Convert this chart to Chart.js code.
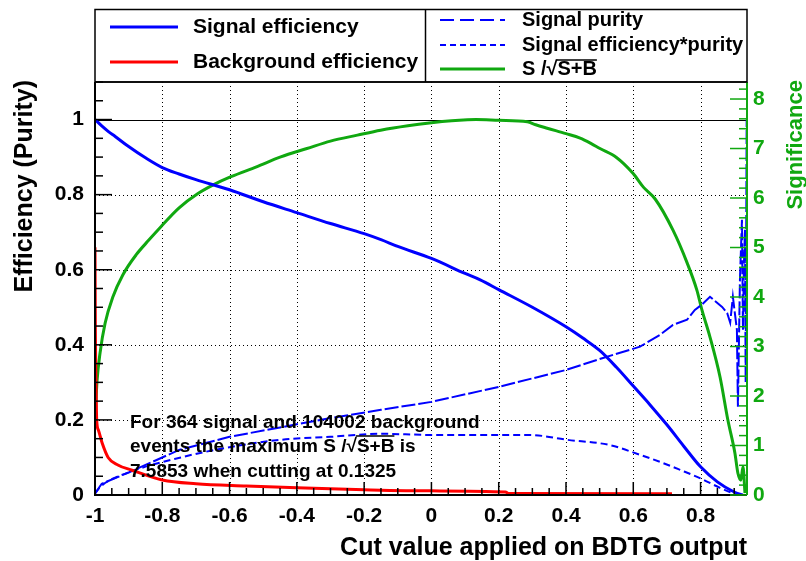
<!DOCTYPE html>
<html>
<head>
<meta charset="utf-8">
<script src="https://cdn.jsdelivr.net/npm/chart.js@4/dist/chart.umd.min.js"></script>
<style>
  html, body { margin: 0; padding: 0; background: #fff; }
  #wrap { width: 806px; height: 561px; }
</style>
</head>
<body>
<div id="wrap"><canvas id="effChart" width="806" height="561"></canvas></div>
<script>
// cut values (x) and curve values
const sigEffX = [-1.0, -0.98, -0.96, -0.94, -0.9, -0.85, -0.8, -0.75, -0.7, -0.6, -0.5, -0.4, -0.3, -0.2, -0.15, -0.1, 0.0, 0.1, 0.145, 0.2, 0.3, 0.4, 0.45, 0.5, 0.55, 0.6, 0.65, 0.7, 0.75, 0.8, 0.85, 0.9, 0.925];
const sigEffY = [1.0, 0.983, 0.968, 0.955, 0.928, 0.898, 0.872, 0.855, 0.84, 0.813, 0.781, 0.752, 0.723, 0.696, 0.68, 0.662, 0.63, 0.59, 0.573, 0.547, 0.5, 0.448, 0.418, 0.385, 0.34, 0.29, 0.24, 0.187, 0.13, 0.075, 0.035, 0.008, 0.0];

const bkgEffX = [-1.0, -0.999, -0.997, -0.995, -0.99, -0.979, -0.961, -0.932, -0.89, -0.8, -0.7, -0.55, -0.4, -0.2, 0.0, 0.22, 0.23, 0.715];
const bkgEffY = [0.66, 0.45, 0.3, 0.2, 0.173, 0.139, 0.1, 0.08, 0.066, 0.04, 0.03, 0.024, 0.019, 0.014, 0.011, 0.008, 0.004, 0.003];

const purityX = [-1.0, -0.98, -0.9, -0.75, -0.6, -0.45, -0.3, -0.15, 0.0, 0.2, 0.4, 0.51, 0.62, 0.68, 0.718, 0.76, 0.783, 0.804, 0.828, 0.849, 0.864, 0.879, 0.888, 0.896, 0.908, 0.911, 0.917, 0.923, 0.926, 0.929, 0.932, 0.934, 0.937];
const purityY = [0.004, 0.03, 0.06, 0.12, 0.155, 0.18, 0.205, 0.227, 0.248, 0.288, 0.333, 0.365, 0.395, 0.427, 0.453, 0.467, 0.493, 0.507, 0.528, 0.512, 0.501, 0.485, 0.459, 0.528, 0.44, 0.235, 0.573, 0.733, 0.44, 0.62, 0.707, 0.3, 1.0];

const effPurX = [-1.0, -0.98, -0.9, -0.745, -0.596, -0.448, -0.3, -0.15, 0.0, 0.18, 0.29, 0.404, 0.53, 0.62, 0.68, 0.739, 0.798, 0.858, 0.896, 0.915];
const effPurY = [0.004, 0.025, 0.06, 0.1, 0.128, 0.147, 0.155, 0.163, 0.16, 0.16, 0.16, 0.147, 0.133, 0.107, 0.088, 0.067, 0.045, 0.019, 0.005, 0.0];

const signifX = [-1.0, -0.994, -0.985, -0.97, -0.947, -0.917, -0.878, -0.84, -0.804, -0.75, -0.694, -0.65, -0.596, -0.52, -0.448, -0.37, -0.3, -0.22, -0.151, -0.07, 0.0, 0.06, 0.107, 0.1325, 0.2, 0.285, 0.31, 0.344, 0.4, 0.442, 0.475, 0.501, 0.55, 0.599, 0.63, 0.665, 0.718, 0.76, 0.789, 0.804, 0.828, 0.858, 0.881, 0.902, 0.911, 0.92, 0.926, 0.932];
const signifY = [1.5, 2.3, 2.87, 3.47, 4.0, 4.45, 4.85, 5.15, 5.42, 5.8, 6.09, 6.26, 6.43, 6.63, 6.83, 7.0, 7.15, 7.27, 7.37, 7.46, 7.52, 7.56, 7.58, 7.5853, 7.57, 7.54, 7.48, 7.41, 7.3, 7.21, 7.1, 7.0, 6.82, 6.5, 6.22, 5.98, 5.35, 4.69, 4.14, 3.74, 3.19, 2.38, 1.52, 0.85, 0.44, 0.3, 0.57, 0.04];

const xTicks = [-1, -0.8, -0.6, -0.4, -0.2, 0, 0.2, 0.4, 0.6, 0.8];
const effTicks = [0, 0.2, 0.4, 0.6, 0.8, 1];
const sigTicks = [0, 1, 2, 3, 4, 5, 6, 7, 8];

const nSignal = 364, nBackground = 104002, maxSignif = 7.5853, bestCut = 0.1325;

const BLUE = '#0000ff', RED = '#ff0000', GREEN = '#10a810';
const FONT = '"Liberation Sans", Arial, sans-serif';

function pts(xs, ys) { return xs.map((x, i) => ({ x: x, y: ys[i] })); }

// draws the ROOT-like frame, inward ticks, dotted grid, legend, titles
const rootStyle = {
    id: 'rootStyle',
    beforeDatasetsDraw(chart) {
        const { ctx, chartArea: a, scales: { x, y } } = chart;
        ctx.save();
        ctx.strokeStyle = '#000';
        ctx.lineWidth = 1;
        ctx.setLineDash([1, 3]);
        xTicks.forEach(v => {
            if (v === -1) return;
            const px = Math.round(x.getPixelForValue(v)) + 0.5;
            ctx.beginPath(); ctx.moveTo(px, a.top); ctx.lineTo(px, a.bottom); ctx.stroke();
        });
        effTicks.forEach(v => {
            if (v === 0) return;
            const py = Math.round(y.getPixelForValue(v)) + 0.5;
            ctx.beginPath(); ctx.moveTo(a.left, py); ctx.lineTo(a.right, py); ctx.stroke();
        });
        // solid line at the maximum
        ctx.setLineDash([]);
        const p1 = Math.round(y.getPixelForValue(1)) + 0.5;
        ctx.beginPath(); ctx.moveTo(a.left, p1); ctx.lineTo(a.right, p1); ctx.stroke();
        ctx.restore();
    },
    afterDraw(chart) {
        const { ctx, chartArea: a, scales: { x, y, y2 } } = chart;
        ctx.save();
        ctx.setLineDash([]);

        // x ticks (inward)
        ctx.strokeStyle = '#000';
        ctx.lineWidth = 1.5;
        for (let i = 0; ; i++) {
            const v = -1 + i * 0.05;
            if (v > x.max) break;
            const px = x.getPixelForValue(v);
            const len = (i % 4 === 0) ? 13 : 7;
            ctx.beginPath(); ctx.moveTo(px, a.bottom); ctx.lineTo(px, a.bottom - len); ctx.stroke();
        }
        // left y ticks
        for (let i = 0; ; i++) {
            const v = i * 0.05;
            if (v > y.max) break;
            const py = y.getPixelForValue(v);
            const len = (i % 4 === 0) ? 17 : 8;
            ctx.beginPath(); ctx.moveTo(a.left, py); ctx.lineTo(a.left + len, py); ctx.stroke();
        }
        // frame
        ctx.lineWidth = 2;
        ctx.beginPath();
        ctx.moveTo(a.left, a.top); ctx.lineTo(a.left, a.bottom); ctx.lineTo(a.right, a.bottom);
        ctx.stroke();
        ctx.lineWidth = 1.5;
        ctx.beginPath(); ctx.moveTo(a.left, a.top); ctx.lineTo(a.right, a.top); ctx.stroke();

        // right significance axis
        ctx.strokeStyle = GREEN;
        ctx.lineWidth = 1.5;
        for (let i = 0; ; i++) {
            const v = i * 0.2;
            if (v > y2.max) break;
            const py = y2.getPixelForValue(v);
            const len = (i % 5 === 0) ? 17 : 8;
            ctx.beginPath(); ctx.moveTo(a.right, py); ctx.lineTo(a.right - len, py); ctx.stroke();
        }
        ctx.lineWidth = 2;
        ctx.beginPath(); ctx.moveTo(a.right, a.top); ctx.lineTo(a.right, a.bottom); ctx.stroke();

        // axis titles
        ctx.fillStyle = '#000';
        ctx.font = 'bold 25px ' + FONT;
        ctx.save();
        ctx.translate(25, a.top - 2);
        ctx.rotate(-Math.PI / 2);
        ctx.textAlign = 'right';
        ctx.textBaseline = 'middle';
        ctx.fillText('Efficiency (Purity)', 0, 0);
        ctx.restore();

        ctx.font = 'bold 25px ' + FONT;
        ctx.textAlign = 'right';
        ctx.textBaseline = 'alphabetic';
        ctx.fillText('Cut value applied on BDTG output', a.right, 555);

        ctx.save();
        ctx.fillStyle = GREEN;
        ctx.font = 'bold 22px ' + FONT;
        ctx.translate(796, a.top - 2);
        ctx.rotate(-Math.PI / 2);
        ctx.textAlign = 'right';
        ctx.textBaseline = 'middle';
        ctx.fillText('Significance', 0, 0);
        ctx.restore();

        // annotation
        ctx.font = 'bold 19px ' + FONT;
        ctx.textAlign = 'left';
        ctx.fillStyle = '#000';
        ctx.fillText('For ' + nSignal + ' signal and ' + nBackground + ' background', 130, 428);
        const l2a = 'events the maximum S /\u221A';
        ctx.fillText(l2a + 'S+B is', 130, 452);
        let ox = 130 + ctx.measureText(l2a).width;
        let ow = ctx.measureText('S+B').width;
        ctx.strokeStyle = '#000'; ctx.lineWidth = 1.5;
        ctx.beginPath(); ctx.moveTo(ox - 1, 436); ctx.lineTo(ox + ow, 436); ctx.stroke();
        ctx.fillText(maxSignif.toFixed(4) + ' when cutting at ' + bestCut.toFixed(4), 130, 477);

        // legend box
        ctx.strokeStyle = '#000';
        ctx.lineWidth = 1.5;
        ctx.strokeRect(a.left, 9.5, a.right - a.left, a.top - 9.5);
        ctx.beginPath(); ctx.moveTo(425.5, 9.5); ctx.lineTo(425.5, a.top); ctx.stroke();

        const entry = (x0, x1, yy, color, dash, width, label, tx) => {
            ctx.strokeStyle = color; ctx.lineWidth = width; ctx.setLineDash(dash);
            ctx.beginPath(); ctx.moveTo(x0, yy); ctx.lineTo(x1, yy); ctx.stroke();
            ctx.setLineDash([]);
            ctx.fillStyle = '#000';
            ctx.textBaseline = 'middle';
            ctx.fillText(label, tx, yy);
        };
        ctx.font = 'bold 21px ' + FONT;
        entry(110, 178, 27, BLUE, [], 3, 'Signal efficiency', 193);
        entry(110, 178, 62, RED, [], 3, 'Background efficiency', 193);
        ctx.font = 'bold 20px ' + FONT;
        entry(440, 505, 20, BLUE, [14, 6], 2, 'Signal purity', 522);
        entry(440, 505, 45, BLUE, [6, 4], 2, 'Signal efficiency*purity', 522);
        const sq = 'S /\u221A';
        entry(440, 505, 69, GREEN, [], 3, sq + 'S+B', 522);
        ox = 522 + ctx.measureText(sq).width;
        ow = ctx.measureText('S+B').width;
        ctx.strokeStyle = '#000'; ctx.lineWidth = 1.5;
        ctx.beginPath(); ctx.moveTo(ox - 1, 60); ctx.lineTo(ox + ow, 60); ctx.stroke();

        ctx.restore();
    }
};

const ctx = document.getElementById('effChart').getContext('2d');

new Chart(ctx, {
    type: 'line',
    data: {
        datasets: [
            { label: 'Signal efficiency', data: pts(sigEffX, sigEffY), borderColor: BLUE, borderWidth: 3, cubicInterpolationMode: 'monotone', yAxisID: 'y' },
            { label: 'Background efficiency', data: pts(bkgEffX, bkgEffY), borderColor: RED, borderWidth: 3, cubicInterpolationMode: 'monotone', yAxisID: 'y' },
            { label: 'Signal purity', data: pts(purityX, purityY), borderColor: BLUE, borderWidth: 2, borderDash: [14, 3], yAxisID: 'y' },
            { label: 'Signal efficiency*purity', data: pts(effPurX, effPurY), borderColor: BLUE, borderWidth: 2, borderDash: [7, 4], cubicInterpolationMode: 'monotone', yAxisID: 'y' },
            { label: 'S/sqrt(S+B)', data: pts(signifX, signifY), borderColor: GREEN, borderWidth: 3, cubicInterpolationMode: 'monotone', yAxisID: 'y2' }
        ]
    },
    options: {
        responsive: false,
        animation: false,
        devicePixelRatio: 1,
        elements: { point: { radius: 0 }, line: { tension: 0, fill: false } },
        layout: { padding: { top: 82, left: 0, right: 0, bottom: 0 } },
        plugins: { legend: { display: false }, tooltip: { enabled: false } },
        scales: {
            x: {
                type: 'linear',
                min: -1,
                max: 0.938,
                afterBuildTicks: s => { s.ticks = xTicks.map(v => ({ value: v })); },
                afterFit: s => { s.height = 66; },
                grid: { display: false, drawTicks: false },
                border: { display: false },
                ticks: {
                    color: '#000',
                    padding: 9,
                    maxRotation: 0,
                    autoSkip: false,
                    font: { family: FONT, size: 21, weight: 'bold' },
                    callback: v => String(+v.toFixed(1))
                }
            },
            y: {
                position: 'left',
                min: 0,
                max: 1.1,
                afterBuildTicks: s => { s.ticks = effTicks.map(v => ({ value: v })); },
                afterFit: s => { s.width = 95; },
                grid: { display: false, drawTicks: false },
                border: { display: false },
                ticks: {
                    color: '#000',
                    padding: 11,
                    font: { family: FONT, size: 21, weight: 'bold' },
                    callback: v => String(+v.toFixed(1))
                }
            },
            y2: {
                position: 'right',
                min: 0,
                max: 1.1 * maxSignif,
                afterBuildTicks: s => { s.ticks = sigTicks.map(v => ({ value: v })); },
                afterFit: s => { s.width = 59; },
                grid: { display: false, drawTicks: false },
                border: { display: false },
                ticks: {
                    color: GREEN,
                    padding: 6,
                    font: { family: FONT, size: 21, weight: 'bold' }
                }
            }
        }
    },
    plugins: [rootStyle]
});
</script>
</body>
</html>
